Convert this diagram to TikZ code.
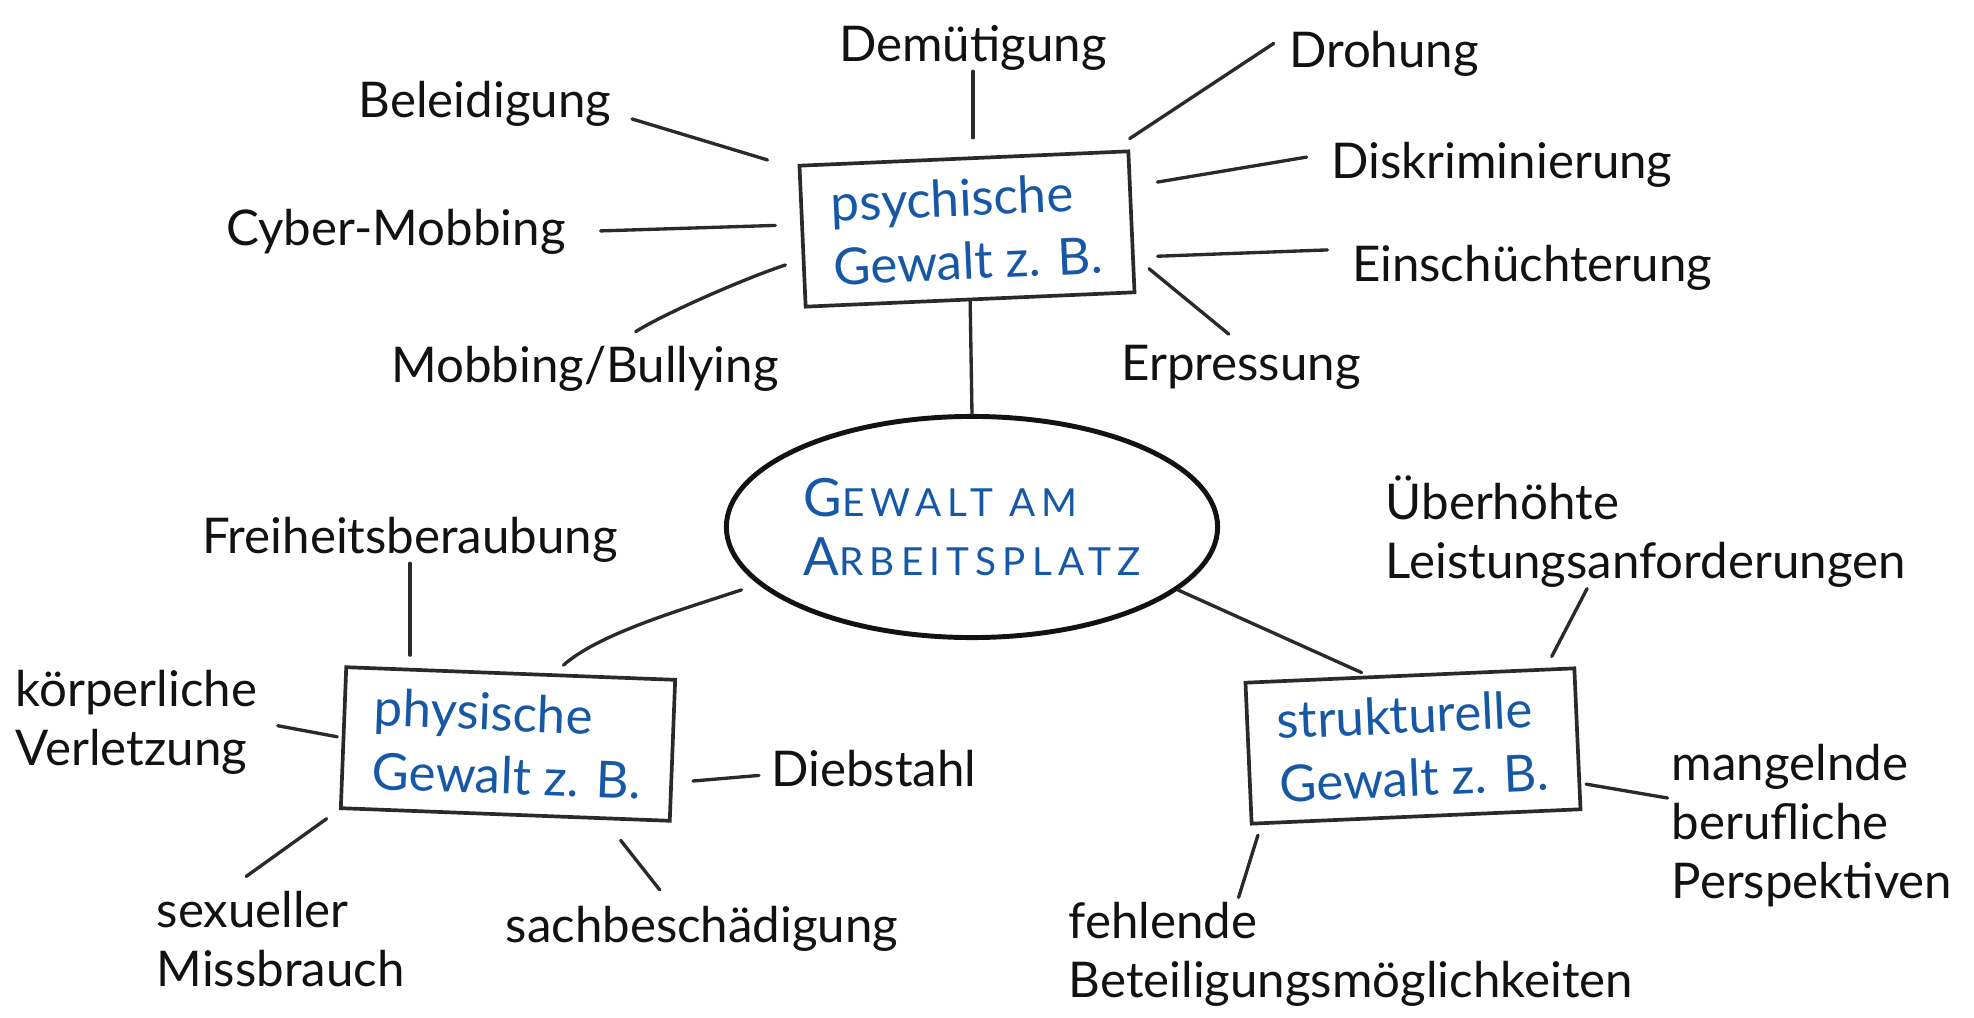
\documentclass[tikz,border=0pt]{standalone}
\usepackage{fontspec}
\setmainfont{Lato}
\usetikzlibrary{shapes.geometric,calc}
\definecolor{inkblue}{RGB}{22,88,166}
\definecolor{ink}{RGB}{18,18,18}
\definecolor{pencil}{RGB}{42,42,42}
\begin{document}
\begin{tikzpicture}[x=0.01cm,y=-0.01cm,
  lab/.style={inner sep=0pt, text=ink, font=\fontsize{14}{16.8}\selectfont, align=left},
  gbox/.style={draw=pencil, line width=1.05pt, minimum width=3.29cm, minimum height=1.41cm,
    inner sep=0pt, align=left, text=inkblue, font=\fontsize{14.5}{18}\selectfont},
  conn/.style={draw=pencil, line width=0.95pt, line cap=round}]
\fill[white] (0,0) rectangle (1974,1018);
\useasboundingbox (0,0) rectangle (1974,1018);

% central ellipse and category boxes
\node[ellipse, draw=ink, line width=1.4pt, minimum width=4.91cm, minimum height=2.21cm,
  inner sep=0pt, align=left, text=inkblue,
  font=\fontsize{11}{17}\selectfont\addfontfeature{LetterSpace=16}] (ell) at (972,527)
  {{\fontsize{15}{17}\selectfont G}EWALT AM\\{\fontsize{15}{17}\selectfont A}RBEITSPLATZ};
\node[gbox, rotate=2.5] (psy) at (967,229) {psychische\\Gewalt z. B.};
\node[gbox, rotate=-2.2] (phy) at (508,744) {physische\\Gewalt z. B.};
\node[gbox, rotate=2.5] (str) at (1413,746) {strukturelle\\Gewalt z. B.};

% labels: psychische Gewalt
\node[lab] (bel) at (485,104) {Beleidigung};
\node[lab] (dem) at (973,48) {Demütigung};
\node[lab] (dro) at (1384,54) {Drohung};
\node[lab] (dis) at (1502,165) {Diskriminierung};
\node[lab] (ein) at (1532,268) {Einschüchterung};
\node[lab] (erp) at (1241,367) {Erpressung};
\node[lab] (cyb) at (396,232) {Cyber-Mobbing};
\node[lab] (mob) at (585,369) {Mobbing/Bullying};
% labels: physische Gewalt
\node[lab] (fre) at (410,540) {Freiheitsberaubung};
\node[lab, anchor=west] (koe) at (15,722) {körperliche\\Verletzung};
\node[lab, anchor=west] (sex) at (156,939) {sexueller\\Missbrauch};
\node[lab] (sac) at (702,929) {sachbeschädigung};
\node[lab] (die) at (874,769) {Diebstahl};
% labels: strukturelle Gewalt
\node[lab, anchor=west] (ueb) at (1385,532) {Überhöhte\\Leistungsanforderungen};
\node[lab, anchor=west] (man) at (1671,826) {mangelnde\\berufliche\\Perspektiven};
\node[lab, anchor=west] (feh) at (1068,954) {fehlende\\Beteiligungsmöglichkeiten};

% connectors
\draw[conn, shorten <=6pt, shorten >=9pt] (bel.-4) -- (psy.158);
\draw[conn, shorten >=5.4pt] (dem.south) -- (dem.south |- psy.north);
\draw[conn, shorten <=5pt, shorten >=6pt] (dro.168) -- (psy.26);
\draw[conn, shorten <=7pt, shorten >=7.4pt] (dis.176) -- (psy.12);
\draw[conn, shorten <=6.8pt, shorten >=6.5pt] (ein.174) -- (psy.-12);
\draw[conn, shorten <=4.5pt, shorten >=5.2pt] (erp.north) -- (psy.-12);
\draw[conn, shorten <=9.8pt, shorten >=7.1pt] (cyb.east) -- (psy.176);
\draw[conn, shorten <=7.4pt, shorten >=4.9pt] (mob.39) .. controls +(50,-32) and +(-55,18) .. (psy.188);
\draw[conn] (psy.south) -- (ell.north);
\draw[conn, shorten <=5pt, shorten >=3.5pt] (ell.195) .. controls +(-75,25) and +(45,-40) .. (phy.59);
\draw[conn, shorten >=2pt] (ell.-17) -- (str.120);
\draw[conn, shorten >=4.7pt] (fre.south) -- (fre.south |- phy.north);
\draw[conn, shorten <=5.8pt, shorten >=1.3pt] (koe.east) -- (phy.west);
\draw[conn, shorten <=4.3pt, shorten >=6.8pt] (phy.south west) -- (sex.138);
\draw[conn, shorten <=7.3pt, shorten >=5.7pt] (phy.-36) -- (sac.142);
\draw[conn, shorten <=5.7pt, shorten >=3.4pt] (phy.-11) -- (die.183);
\draw[conn, shorten >=3.6pt] (ueb.224) -- (str.28);
\draw[conn, shorten <=1.4pt, shorten >=1pt] (str.-15) -- (man.169);
\draw[conn, shorten <=3pt, shorten >=1.1pt] (str.205) -- (feh.155);
\end{tikzpicture}
\end{document}
